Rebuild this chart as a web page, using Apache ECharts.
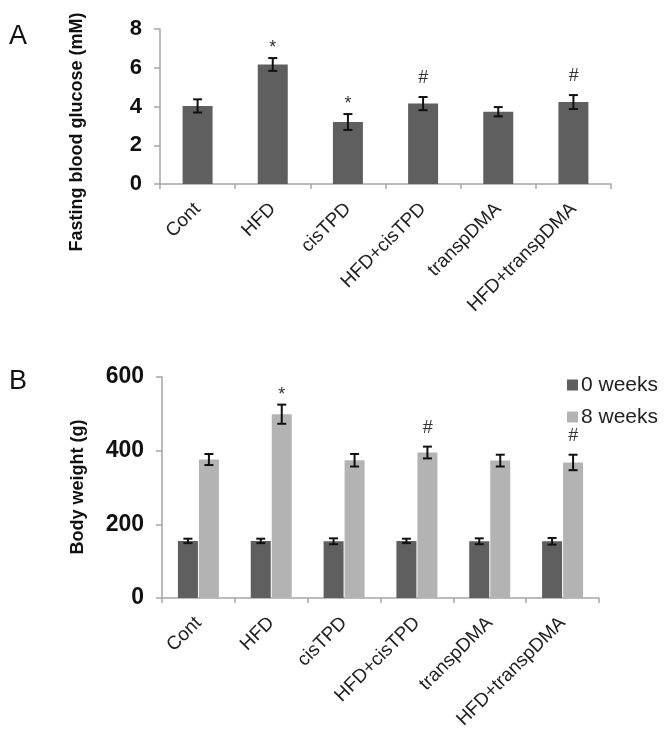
<!DOCTYPE html>
<html>
<head>
<meta charset="utf-8">
<script src="https://cdn.jsdelivr.net/npm/echarts@6/dist/echarts.min.js"></script>
<style>
html,body{margin:0;padding:0;background:#fff;}
#chart{width:670px;height:736px;}
</style>
</head>
<body>
<div id="chart"></div>
<script>
// ---- Data ----
const categories = ['Cont', 'HFD', 'cisTPD', 'HFD+cisTPD', 'transpDMA', 'HFD+transpDMA'];

// Panel A: fasting blood glucose (mM)
const glucoseMean = [4.03, 6.17, 3.20, 4.15, 3.73, 4.23];
const glucoseErr  = [0.34, 0.33, 0.41, 0.34, 0.24, 0.36];
const glucoseMark = ['', '*', '*', '#', '', '#'];

// Panel B: body weight (g)
const seriesNames = ['0 weeks', '8 weeks'];
const weight0Mean = [155, 155, 154, 155, 154, 154];
const weight0Err  = [6, 6, 8, 6, 8, 9];
const weight0Mark = ['', '', '', '', '', ''];
const weight8Mean = [376, 499, 374, 395, 373, 368];
const weight8Err  = [15, 26, 17, 16, 16, 21];
const weight8Mark = ['', '*', '', '#', '', '#'];

const yTicksA = {min: 0, max: 8, interval: 2};
const yTicksB = {min: 0, max: 600, interval: 200};
const titleA = 'Fasting blood glucose (mM)';
const titleB = 'Body weight (g)';

// ---- Styling ----
const FONT = 'Liberation Sans, Arial, sans-serif';
const DARK = '#5f5f5f';
const LIGHT = '#b3b3b3';
const AXIS = '#a6a6a6';

function errData(means, errs) {
  return means.map((m, i) => [i, m, errs[i]]);
}

function makeErrRender(offset, capHalf, marks) {
  return function (params, api) {
    const idx = api.value(0);
    const m = api.value(1);
    const e = api.value(2);
    const mark = marks[params.dataIndex];
    const x = api.coord([idx, m])[0] + offset;
    const yTop = api.coord([idx, m + e])[1];
    const yBot = api.coord([idx, m - e])[1];
    const st = {stroke: '#111', lineWidth: 2};
    const children = [
      {type: 'line', shape: {x1: x, y1: yTop, x2: x, y2: yBot}, style: st},
      {type: 'line', shape: {x1: x - capHalf, y1: yTop, x2: x + capHalf, y2: yTop}, style: st},
      {type: 'line', shape: {x1: x - capHalf, y1: yBot, x2: x + capHalf, y2: yBot}, style: st}
    ];
    if (mark) {
      const dy = mark === '*' ? 10 : 19;
      children.push({
        type: 'text',
        style: {
          x: x, y: yTop - dy, text: mark,
          font: (mark === '*' ? '18px ' : 'italic 18px ') + FONT,
          fill: '#333', align: 'center', verticalAlign: 'middle'
        }
      });
    }
    return {type: 'group', children: children};
  };
}

const chart = echarts.init(document.getElementById('chart'), null, {renderer: 'canvas'});

const xAxisCommon = {
  type: 'category',
  data: categories,
  axisLine: {lineStyle: {color: AXIS, width: 1.5}},
  axisTick: {show: true, length: 5, lineStyle: {color: AXIS, width: 1.5}},
  axisLabel: {rotate: 45, margin: 22, fontSize: 19, color: '#222', fontFamily: FONT, interval: 0}
};

const yAxisCommon = {
  type: 'value',
  axisLine: {show: true, lineStyle: {color: AXIS, width: 1.5}},
  axisTick: {show: true, length: 6, lineStyle: {color: AXIS, width: 1.5}},
  splitLine: {show: false}
};

const option = {
  backgroundColor: '#fff',
  animation: false,
  textStyle: {fontFamily: FONT},
  graphic: [
    {type: 'text', left: 9, top: 23, style: {text: 'A', font: '27px ' + FONT, fill: '#111'}},
    {type: 'text', left: 9, top: 368, style: {text: 'B', font: '27px ' + FONT, fill: '#111'}},
    {type: 'text', x: 77, y: 132, rotation: Math.PI / 2,
      style: {text: titleA, font: 'bold 18px ' + FONT, fill: '#111', align: 'center', verticalAlign: 'middle'}},
    {type: 'text', x: 78, y: 487, rotation: Math.PI / 2,
      style: {text: titleB, font: 'bold 18px ' + FONT, fill: '#111', align: 'center', verticalAlign: 'middle'}}
  ],
  legend: {
    data: seriesNames,
    orient: 'vertical',
    left: 562,
    top: 369,
    itemWidth: 11,
    itemHeight: 11,
    itemGap: 10,
    icon: 'rect',
    textStyle: {fontSize: 21, color: '#222', fontFamily: FONT, lineHeight: 22, padding: [0, 0, 0, -2]}
  },
  grid: [
    {left: 160, right: 59, top: 29, height: 155},
    {left: 162, right: 71, top: 377, height: 221}
  ],
  xAxis: [
    Object.assign({gridIndex: 0}, xAxisCommon),
    Object.assign({gridIndex: 1}, xAxisCommon)
  ],
  yAxis: [
    Object.assign({gridIndex: 0,
      axisLabel: {fontSize: 22, fontWeight: 'bold', color: '#111', fontFamily: FONT, margin: 18}},
      yAxisCommon, yTicksA),
    Object.assign({gridIndex: 1,
      axisLabel: {fontSize: 23, fontWeight: 'bold', color: '#111', fontFamily: FONT, margin: 18}},
      yAxisCommon, yTicksB)
  ],
  series: [
    {
      type: 'bar', xAxisIndex: 0, yAxisIndex: 0, data: glucoseMean,
      barWidth: 30, itemStyle: {color: DARK}, silent: true
    },
    {
      type: 'custom', xAxisIndex: 0, yAxisIndex: 0,
      data: errData(glucoseMean, glucoseErr),
      encode: {x: 0, y: [1]}, renderItem: makeErrRender(0, 4.5, glucoseMark), z: 10, silent: true
    },
    {
      name: seriesNames[0], type: 'bar', xAxisIndex: 1, yAxisIndex: 1, data: weight0Mean,
      barWidth: 20, barGap: '5%', itemStyle: {color: DARK}, silent: true
    },
    {
      name: seriesNames[1], type: 'bar', xAxisIndex: 1, yAxisIndex: 1, data: weight8Mean,
      barWidth: 20, barGap: '5%', itemStyle: {color: LIGHT}, silent: true
    },
    {
      type: 'custom', xAxisIndex: 1, yAxisIndex: 1,
      data: errData(weight0Mean, weight0Err),
      encode: {x: 0, y: [1]}, renderItem: makeErrRender(-10.5, 4.5, weight0Mark), z: 10, silent: true
    },
    {
      type: 'custom', xAxisIndex: 1, yAxisIndex: 1,
      data: errData(weight8Mean, weight8Err),
      encode: {x: 0, y: [1]}, renderItem: makeErrRender(10.5, 4.5, weight8Mark), z: 10, silent: true
    }
  ]
};

chart.setOption(option);
</script>
</body>
</html>
